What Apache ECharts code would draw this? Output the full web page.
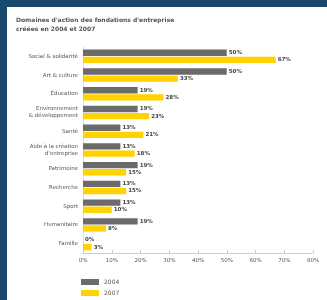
<!DOCTYPE html>
<html>
<head>
<meta charset="utf-8">
<script src="https://cdn.jsdelivr.net/npm/echarts@6/dist/echarts.min.js"></script>
<style>
  html, body { margin: 0; padding: 0; background: #1a4a6b; }
  #main { width: 327px; height: 300px; }
</style>
</head>
<body>
<div id="main"></div>
<script>
// données
var categories = ['Social & solidarité', 'Art & culture', 'Éducation', 'Environnement\n& développement', 'Santé',
  'Aide à la création\nd\'entreprise', 'Patrimoine', 'Recherche', 'Sport', 'Humanitaire', 'Famille'];
var values2004 = [50, 50, 19, 19, 13, 13, 19, 13, 13, 19, 0];
var values2007 = [67, 33, 28, 23, 21, 18, 15, 15, 10, 8, 3];
var xTicks = [0, 10, 20, 30, 40, 50, 60, 70, 80];

var myChart = echarts.init(document.getElementById('main'));

var labelStyle = {
  show: true,
  position: 'right',
  distance: 2,
  formatter: '{c}%',
  fontSize: 5.5,
  fontWeight: 'bold',
  color: '#444',
  fontFamily: 'DejaVu Sans'
};

var option = {
  backgroundColor: '#1a4a6b',
  animation: false,
  textStyle: { fontFamily: 'DejaVu Sans' },
  graphic: [
    { type: 'rect', left: 7, top: 7, shape: { width: 320, height: 293 }, style: { fill: '#ffffff' }, z: -10 },
    {
      type: 'text', left: 16, top: 16,
      style: {
        text: 'Domaines d\'action des fondations d\'entreprise\ncréées en 2004 et 2007',
        fontSize: 6, fontWeight: 'bold', fill: '#555', lineHeight: 9, fontFamily: 'DejaVu Sans'
      }
    }
  ],
  legend: {
    orient: 'vertical',
    left: 81,
    top: 279,
    padding: 0,
    itemWidth: 18,
    itemHeight: 6,
    itemGap: 5,
    icon: 'rect',
    textStyle: { fontSize: 6, color: '#555' },
    data: ['2004', '2007']
  },
  grid: { left: 83, right: 14, top: 47, bottom: 47 },
  xAxis: {
    type: 'value',
    min: 0,
    max: 80,
    interval: 10,
    axisLine: { show: true, lineStyle: { color: '#ccc' } },
    axisTick: { show: true, length: 3, inside: true, lineStyle: { color: '#ccc' } },
    splitLine: { show: false },
    axisLabel: {
      fontSize: 5.5, color: '#555', margin: 5,
      formatter: function (v) { return xTicks.indexOf(v) >= 0 ? v + '%' : ''; }
    }
  },
  yAxis: {
    type: 'category',
    inverse: true,
    data: categories,
    axisLine: { show: true, lineStyle: { color: '#ddd' } },
    axisTick: { show: false },
    axisLabel: { fontSize: 5.5, color: '#555', margin: 5, lineHeight: 7 }
  },
  series: [
    {
      name: '2004',
      type: 'bar',
      data: values2004,
      itemStyle: { color: '#6b6b6b' },
      barGap: '12%',
      barCategoryGap: '28%',
      label: labelStyle
    },
    {
      name: '2007',
      type: 'bar',
      data: values2007,
      itemStyle: { color: '#ffd200' },
      label: labelStyle
    }
  ]
};

myChart.setOption(option);
</script>
</body>
</html>
